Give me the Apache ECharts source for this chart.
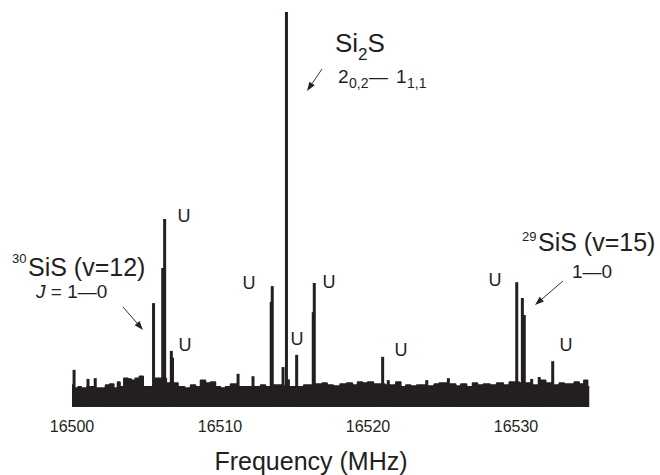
<!DOCTYPE html>
<html><head><meta charset="utf-8">
<script src="https://cdn.jsdelivr.net/npm/echarts@6/dist/echarts.min.js"></script>
<style>html,body{margin:0;padding:0;background:#fff}#c{width:660px;height:475px}</style>
</head><body><div id="c"></div>
<script>
// Noise floor (upper envelope of the baseline), frequency in MHz, intensity in a.u. (strongest line = 100)
const noiseFreq = [16500.00,16500.29,16500.52,16500.74,16501.30,16501.87,16502.09,16502.43,16502.66,16502.99,
  16503.16,16503.33,16503.67,16503.90,16504.12,16504.41,16504.68,16504.95,16505.25,16505.81,
  16506.94,16507.39,16507.84,16508.18,16508.51,16508.85,16509.19,16509.53,16509.86,16510.20,
  16510.54,16510.88,16511.55,16511.89,16512.57,16512.91,16513.24,16513.80,16514.82,16515.49,
  16515.83,16516.74,16517.07,16517.41,16517.89,16518.33,16518.78,16519.12,16519.46,16519.80,
  16520.14,16520.59,16521.71,16522.05,16522.39,16522.72,16523.06,16523.51,16524.30,16524.64,
  16524.98,16525.76,16526.10,16526.44,16526.89,16527.23,16527.57,16528.02,16528.47,16528.92,
  16529.37,16529.71,16530.72,16531.28,16531.84,16532.18,16532.75,16533.09,16533.43,16533.76,
  16534.10,16534.44,16534.73,16534.95];
const noiseLevel = [5.6,4.8,5.1,4.8,5.1,4.8,4.8,5.6,5.8,4.8,
  6.3,5.1,7.3,7.1,6.8,7.3,7.8,5.1,5.1,7.3,
  6.1,5.1,4.8,5.6,5.1,6.8,6.1,6.3,5.1,4.8,
  5.1,5.8,5.1,5.1,5.1,5.6,5.1,5.6,5.1,5.1,
  5.6,5.8,6.1,5.6,5.3,5.8,6.1,5.6,6.3,6.1,
  6.3,5.8,5.6,6.3,5.1,5.6,5.3,5.6,5.3,5.8,
  6.1,5.8,5.3,5.8,5.1,6.1,5.6,5.8,5.6,6.1,
  5.6,6.3,6.1,5.6,6.8,6.1,5.6,6.1,5.8,5.8,
  6.3,5.8,6.8,5.1];
// Spectral lines and noise spikes (sticks)
const lineFreq = [16500.14,16501.08,16501.57,16505.51,16506.13,16506.26,16506.71,16506.79,16511.22,16512.23,
  16513.46,16513.53,16514.26,16514.49,16514.62,16515.18,16516.30,16516.37,16520.99,16521.37,
  16523.97,16525.43,16530.05,16530.43,16530.56,16531.06,16531.57,16532.48];
const lineHeight = [9.4,7.1,7.3,26.3,35.2,47.6,14.2,12.5,8.4,7.8,
  26.6,30.6,10.1,100,7.0,13.2,24.0,31.4,12.7,6.8,
  6.8,7.3,31.6,27.6,23.3,7.1,7.6,11.6];
const xTickLabels = [16500,16510,16520,16530];

const FF = '"Liberation Sans", Arial, Helvetica, sans-serif';
const INK = '#231f20';
const chart = echarts.init(document.getElementById('c'), null, {renderer:'svg'});

function txt(x, y, text, size, align, extra) {
  return Object.assign({type:'text', x:x, y:y, style:Object.assign({
    text:text, fontSize:size, fontFamily:FF, fill:INK,
    align:align||'left', verticalAlign:'middle',
    textAlign:align||'left', textVerticalAlign:'middle'}, extra||{})});
}
function arrow(x1,y1,x2,y2){
  const dx=x2-x1, dy=y2-y1, L=Math.hypot(dx,dy), ux=dx/L, uy=dy/L, hl=9, hw=3.2;
  const bx=x2-ux*hl, by=y2-uy*hl;
  return [
    {type:'line', shape:{x1:x1,y1:y1,x2:bx,y2:by}, style:{stroke:'#333', lineWidth:1}},
    {type:'polygon', shape:{points:[[x2,y2],[bx-uy*hw,by+ux*hw],[bx+uy*hw,by-ux*hw]]}, style:{fill:'#222'}}
  ];
}

const graphics = [].concat(
  // Si2S label
  [txt(335,43,'Si',26), txt(358,54,'2',17), txt(367.5,43,'S',26)],
  [txt(338,76,'2',19), txt(349,83,'0,2',14), txt(369,76,'\u2014',19), txt(396,76,'1',19), txt(407,83,'1,1',14)],
  arrow(322,69,307,91),
  // 30SiS label
  [txt(12,258,'30',13), txt(28,267,'SiS (v=12)',25)],
  [{type:'text', x:36, y:291, style:{text:'{i|J} = 1\u20140', fontSize:19, fontFamily:FF, fill:INK,
     verticalAlign:'middle', textVerticalAlign:'middle', rich:{i:{fontStyle:'italic', fontSize:19, fontFamily:FF, fill:INK}}}}],
  arrow(123,307,143,330),
  // 29SiS label
  [txt(522,236,'29',13), txt(538,241.5,'SiS (v=15)',25), txt(572,271,'1\u20140',19)],
  arrow(563,281,535,305),
  // U labels
  [[184,216],[185,345],[249,283],[297,339],[329,282],[401,350],[495,280],[566,345]].map(p=>txt(p[0],p[1],'U',18,'center')),
  // axis title
  [txt(311,461,'Frequency (MHz)',25,'center')]
);

chart.setOption({
  animation:false,
  backgroundColor:'#fff',
  grid:{left:72, right:70, top:12, bottom:68, containLabel:false},
  xAxis:{type:'value', min:16500, max:16535, interval:10,
    axisLine:{show:false}, axisTick:{show:false}, splitLine:{show:false},
    axisLabel:{fontSize:16, fontFamily:FF, color:INK, margin:11, showMaxLabel:false,
      formatter:function(v){ return xTickLabels.indexOf(v)>=0 ? String(v) : ''; }}},
  yAxis:{type:'value', min:0, max:100, show:false},
  series:[
    {type:'line', data:noiseFreq.map((f,i)=>[f,noiseLevel[i]]), step:'middle', showSymbol:false,
     lineStyle:{color:INK, width:1.5}, areaStyle:{color:INK, opacity:1, origin:'start'}, z:2},
    {type:'bar', data:lineFreq.map((f,i)=>[f,lineHeight[i]]), barWidth:3,
     itemStyle:{color:INK}, z:3}
  ],
  graphic:graphics
});
</script></body></html>
